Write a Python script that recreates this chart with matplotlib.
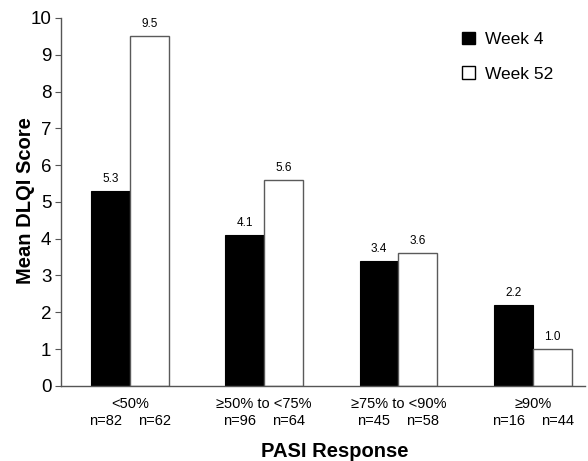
import matplotlib
matplotlib.use("Agg")
import matplotlib.pyplot as plt
import numpy as np

categories = ["<50%", "≥50% to <75%", "≥75% to <90%", "≥90%"]
week4 = [5.3, 4.1, 3.4, 2.2]
week52 = [9.5, 5.6, 3.6, 1.0]
n_week4 = ["n=82", "n=96", "n=45", "n=16"]
n_week52 = ["n=62", "n=64", "n=58", "n=44"]

plt.rcParams['font.family'] = ['Liberation Sans', 'DejaVu Sans']

fig = plt.figure(figsize=(5.88, 4.61), dpi=100)
ax = fig.add_axes([0.104, 0.163, 0.891, 0.798])

x = np.arange(len(categories))
w = 0.29
b1 = ax.bar(x - w/2, week4, w, color='black', edgecolor='black', linewidth=0.8, label='Week 4')
b2 = ax.bar(x + w/2, week52, w, color='white', edgecolor='#5a5a5a', linewidth=1.0, label='Week 52')

for bars, vals in ((b1, week4), (b2, week52)):
    for r, v in zip(bars, vals):
        ax.text(r.get_x() + r.get_width()/2, v + 0.17, f"{v:.1f}", ha='center', va='bottom', fontsize=8.5)

ax.set_ylim(0, 10)
ax.set_xlim(-0.513, 3.39)
ax.set_yticks(range(0, 11))
ax.tick_params(axis='y', labelsize=13.5, length=4, color='#555555', pad=3)
ax.set_xticks([])
for s in ('top', 'right'):
    ax.spines[s].set_visible(False)
for s in ('left', 'bottom'):
    ax.spines[s].set_color('#555555')
    ax.spines[s].set_linewidth(1.0)

trans = ax.get_xaxis_transform()
for i, c in enumerate(categories):
    ax.text(x[i], -0.031, c, transform=trans, ha='center', va='top', fontsize=10.5)
    ax.text(x[i] - w*0.63, -0.077, n_week4[i], transform=trans, ha='center', va='top', fontsize=10.5)
    ax.text(x[i] + w*0.63, -0.077, n_week52[i], transform=trans, ha='center', va='top', fontsize=10.5)

fig.text(0.57, 0.021, "PASI Response", ha='center', va='center', fontsize=14.5, fontweight='bold')
fig.text(0.043, 0.565, "Mean DLQI Score", ha='center', va='center', rotation=90, fontsize=14.5, fontweight='bold')

leg = ax.legend(loc='upper left', bbox_to_anchor=(0.735, 1.005), frameon=False, fontsize=12.5,
                handlelength=0.75, handleheight=0.75, handletextpad=0.6, labelspacing=1.1)
for h in leg.legend_handles:
    h.set_linewidth(1.0)
    h.set_edgecolor('black')

fig.savefig("out.png", dpi=100)
